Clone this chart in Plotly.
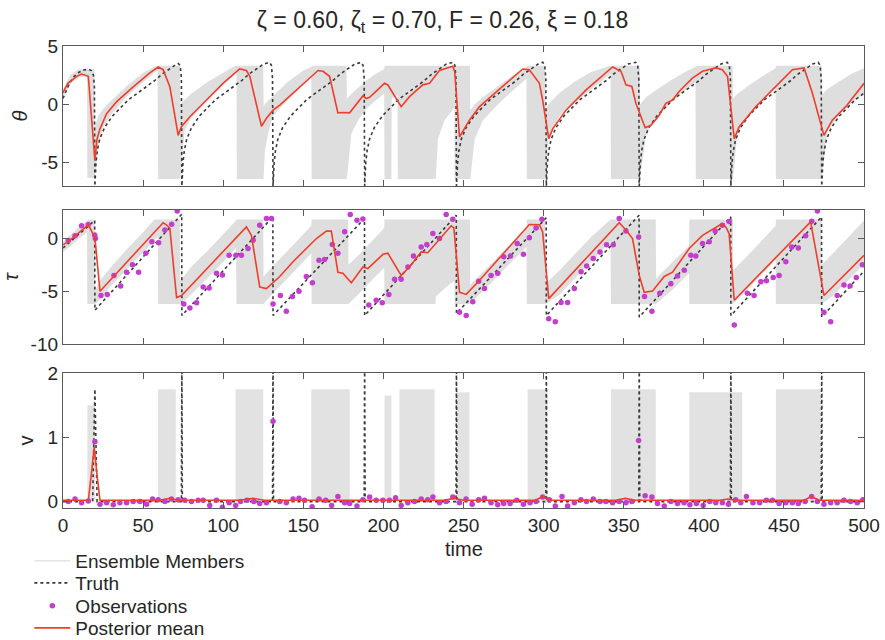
import plotly.graph_objects as go

# ---------------- data ----------------
# Truth theta
truth_theta_t = [0, 2, 4, 7, 10, 13, 16, 17.7, 19.0, 19.6,
                 19.9, 20.6, 21.4, 22.9, 25.9, 30.9, 35.9, 40.9, 46.9, 51.9, 56.9, 61.9, 66.9, 70.9, 72.0, 73.2, 73.9,
                 74.2, 74.9, 75.7, 77.2, 80.2, 85.2, 90.2, 95.2, 101.2, 106.2, 111.2, 116.2, 121.2, 125.2, 128.9, 130.1, 130.8,
                 131.1, 131.8, 132.6, 134.1, 137.1, 142.1, 147.1, 152.1, 158.1, 163.1, 168.1, 173.1, 178.1, 182.1, 186.1, 187.3, 188.0,
                 188.3, 189.0, 189.8, 191.3, 194.3, 199.3, 204.3, 209.3, 215.3, 220.3, 225.3, 230.3, 235.3, 239.3, 243.4, 244.6, 245.3,
                 245.6, 246.3, 247.1, 248.6, 251.6, 256.6, 261.6, 266.6, 272.6, 277.6, 282.6, 287.6, 292.6, 296.6, 299.5, 300.7, 301.4,
                 301.7, 302.4, 303.2, 304.7, 307.7, 312.7, 317.7, 322.7, 328.7, 333.7, 338.7, 343.7, 348.7, 352.7, 357.5, 358.7, 359.4,
                 359.7, 360.4, 361.2, 362.7, 365.7, 370.7, 375.7, 380.7, 386.7, 391.7, 396.7, 401.7, 406.7, 410.7, 414.7, 415.9, 416.6,
                 416.9, 417.6, 418.4, 419.9, 422.9, 427.9, 432.9, 437.9, 443.9, 448.9, 453.9, 458.9, 463.9, 467.9, 471.4, 472.6, 473.3,
                 473.6, 474.3, 475.1, 476.6, 479.6, 484.6, 489.6, 494.6, 500.0]
truth_theta = [0.5, 1.2, 1.8, 2.4, 2.75, 2.95, 3.0, 2.9, 2.5, 1.5,
               -7, -5, -4, -3, -2, -1, -0.3, 0.4, 1.0, 1.5, 2.0, 2.6, 3.1, 3.45, 3.5, 3.3, 2.2,
               -7, -5, -4, -3, -2, -1, -0.3, 0.4, 1.0, 1.5, 2.0, 2.6, 3.1, 3.45, 3.6, 3.35, 2.2,
               -7, -5, -4, -3, -2, -1, -0.3, 0.4, 1.0, 1.5, 2.0, 2.6, 3.1, 3.45, 3.6, 3.35, 2.2,
               -7, -5, -4, -3, -2, -1, -0.3, 0.4, 1.0, 1.5, 2.0, 2.6, 3.1, 3.45, 3.6, 3.35, 2.2,
               -7, -5, -4, -3, -2, -1, -0.3, 0.4, 1.0, 1.5, 2.0, 2.6, 3.1, 3.45, 3.6, 3.35, 2.2,
               -7, -5, -4, -3, -2, -1, -0.3, 0.4, 1.0, 1.5, 2.0, 2.6, 3.1, 3.45, 3.6, 3.35, 2.2,
               -7, -5, -4, -3, -2, -1, -0.3, 0.4, 1.0, 1.5, 2.0, 2.6, 3.1, 3.45, 3.6, 3.35, 2.2,
               -7, -5, -4, -3, -2, -1, -0.3, 0.4, 1.0, 1.5, 2.0, 2.6, 3.1, 3.45, 3.6, 3.35, 2.2,
               -7, -5, -4, -3, -2, -1, -0.3, 0.4, 0.95]

# Truth tau
truth_tau_t = [0, 19.8, 19.9, 74.1, 74.2, 131.0, 131.1, 188.2, 188.3, 245.5, 245.6,
               301.6, 301.7, 359.6, 359.7, 416.8, 416.9, 473.5, 473.6, 500]
truth_tau = [-0.9, 1.7, -6.8, 2.3, -7.3, 2.05, -7.3, 1.9, -7.3, 2.2, -7.1,
             1.95, -7.3, 2.2, -7.45, 2.05, -7.3, 2.05, -7.45, -3.1]

# Truth v
truth_v_t = [0, 18.5, 19.9, 21.3, 73.9, 74.2, 74.5, 130.8, 131.1, 131.4, 188.0, 188.3, 188.6,
             245.3, 245.6, 245.9, 301.4, 301.7, 302.0, 359.4, 359.7, 360.0, 416.6, 416.9, 417.2,
             473.3, 473.6, 473.9, 500]
truth_v = [0, 0, 1.75, 0, 0, 2.3, 0, 0, 2.3, 0, 0, 2.3, 0,
           0, 2.3, 0, 0, 2.3, 0, 0, 2.3, 0, 0, 2.3, 0,
           0, 2.3, 0, 0]

# Posterior mean
post_theta_t = [0, 3, 8.5, 11.6, 15.8, 19.9, 21.2, 23.1, 27.2, 33.5, 43.8, 54.2, 59.4, 62.5, 66.7, 71.9,
                74.0, 79.2, 89.6, 99.9, 110.3, 114.5, 116.6, 123.9, 127.0, 131.1, 135.3, 147.7, 159.2,
                162.3, 166.4, 171.6, 174.7, 178.9, 187.2, 189.3, 191.4, 200.7, 202.8, 211.1, 216.3,
                224.6, 228.8, 235.0, 241.3, 243.3, 244.5, 247.5, 253.7, 260.0, 276.6, 287.0, 291.1,
                297.4, 299.4, 303.2, 305.7, 314.0, 326.5, 343.1, 348.3, 351.4, 355.1, 357.6, 363.4,
                367.0, 372.2, 376.3, 380.5, 384.6, 392.9, 399.2, 407.5, 411.6, 414.8, 419.0, 422.0,
                432.5, 442.8, 455.3, 462.6, 467.8, 475.0, 480.2, 488.6, 498.9, 500]
post_theta = [1.0, 1.8, 2.4, 2.6, 2.4, -4.8, -3.0, -2.1, -0.8, 0.23, 1.5, 2.7, 3.2, 2.97, 1.5, -2.66,
              -1.9, -1.07, 0.37, 1.8, 3.03, 2.9, 2.4, -1.88, -1.2, -0.5, -0.06, 1.5, 2.9,
              2.83, 2.4, -0.73, -0.7, -0.73, 0.72, 0.5, 0.6, 1.8, 1.66, -0.2, 0.66,
              1.67, 1.8, 2.9, 3.2, 3.26, 2.8, -2.8, -1.36, -0.2, 1.8, 3.03, 2.97,
              1.8, 0.37, -2.95, -2.1, -0.5, 1.24, 3.2, 2.83, 1.67, 1.53, 0.09, -2.0,
              -1.8, -0.93, 0.09, 0.37, 1.1, 2.25, 2.83, 3.12, 2.97, 2.4, -2.95, -1.94,
              -0.2, 1.24, 2.97, 3.12, 0.95, -2.66, -1.36, -0.2, 1.67, 1.8]

post_tau_t = [0, 3.3, 15.8, 19.9, 23.1, 62.5, 64.5, 66.7, 70.9, 74.0, 114.5, 117.6, 122.8, 127.0,
              135.3, 143.6, 158.2, 164.4, 167.5, 171.6, 174.7, 180.0, 187.2, 190.3, 199.7, 202.8,
              211.1, 216.3, 223.6, 227.7, 242.3, 244.0, 247.5, 251.7, 260.0, 291.1, 297.4, 299.4,
              303.2, 347.2, 351.4, 355.5, 359.7, 362.8, 368.0, 373.0, 375.3, 380.5, 390.9, 399.2,
              410.6, 413.7, 415.8, 419.0, 466.7, 475.0, 498.9, 500]
post_tau = [-0.6, -0.3, 1.3, 0.1, -5.0, 1.5, 1.3, 0.95, -5.6, -5.4, 1.1, 0.3, -4.6, -4.75,
            -3.6, -2.2, 0.0, 0.7, 0.7, -3.2, -3.3, -4.2, -2.7, -2.85, -1.5, -1.4,
            -3.5, -2.7, -1.27, -1.35, 1.2, 1.0, -5.1, -5.3, -3.96, 1.33, 1.3, 0.63,
            -5.7, 1.5, 0.8, 0.0, -3.5, -5.1, -4.98, -4.1, -3.6, -3.2, -0.95, 0.3,
            1.33, 1.1, 0.47, -5.85, 1.58, -5.4, -1.75, -1.6]

post_v_t = [0, 15.8, 17.6, 19.5, 21.3, 23.1, 26, 60, 66.6, 72, 110, 118.7, 126, 180, 238, 244,
            250, 295, 299.4, 304, 345, 351, 357, 410, 415, 420, 463, 467, 472, 500]
post_v = [0.02, 0.02, 0.4, 0.85, 0.4, 0.02, 0.02, 0.02, 0.05, 0.02, 0.02, 0.05, 0.02, 0.02, 0.02, 0.05,
          0.02, 0.02, 0.08, 0.02, 0.02, 0.05, 0.02, 0.02, 0.04, 0.02, 0.02, 0.08, 0.02, 0.02]

# Observations
obs_tau_t = [3.3, 7.5, 11.6, 15.8, 19.8, 20.2, 23.7, 27.6, 31.8, 36.0, 39.7, 43.4, 47.2, 51.7, 55.5,
             59.7, 63.6, 67.8, 71.3, 75.4, 79.2, 83.4, 87.5, 91.2, 95.8, 99.5, 103.7, 107.9, 111.4,
             115.5, 118.7, 122.8, 127.0, 130.1, 131.1, 135.7, 139.4, 143.2, 147.3, 151.9, 155.7,
             159.8, 163.3, 168.1, 171.6, 175.8, 179.3, 183.5, 187.2, 190.9, 195.5, 199.3, 203.4,
             207.0, 211.1, 215.3, 218.8, 223.6, 227.1, 230.9, 235.0, 239.2, 243.3, 247.5, 251.7,
             255.8, 259.5, 263.1, 267.2, 271.4, 275.1, 279.3, 283.5, 287.4, 291.1, 295.3, 299.0,
             303.2, 307.3, 310.9, 315.0, 319.2, 323.4, 326.9, 331.0, 335.2, 339.3, 343.5, 347.2,
             351.4, 359.3, 363.0, 367.6, 372.5, 379.4, 383.6, 387.8, 391.9, 395.0, 399.2, 403.4,
             407.1, 411.6, 415.8, 419.0, 427.2, 431.4, 435.6, 439.1, 443.3, 447.0, 451.2, 454.9,
             459.0, 463.6, 467.4, 470.9, 475.0, 479.2, 483.3, 487.5, 491.3, 495.2, 499.0]
obs_tau = [-0.2, 0.25, 1.2, 1.33, 0.3, 0.0, -5.4, -5.3, -3.5, -4.5, -3.2, -2.5, -3.2, -1.4, -0.3,
           -0.4, 0.8, 1.36, 2.6, -6.2, -6.6, -6.1, -4.6, -4.7, -3.3, -3.45, -1.6, -1.6, -1.6,
           -0.95, -0.16, 1.26, 1.9, 1.9, -6.2, -5.4, -6.9, -5.5, -5.0, -3.6, -4.2,
           -2.06, -2.0, -0.57, -1.4, 0.63, 2.28, 1.74, 1.84, -6.3, -5.85, -6.1, -5.3,
           -3.86, -3.86, -2.7, -1.65, -0.8, -0.57, 0.47, 0.0, 2.28, 1.83, -7.0, -7.3,
           -6.0, -4.05, -4.75, -3.5, -3.3, -1.74, -1.65, -0.47, -1.5, 0.06, 1.0, 1.83,
           -7.6, -7.9, -6.07, -6.07, -4.75, -3.16, -2.6, -1.9, -1.27, -0.6, -0.6, 1.9,
           0.7, 0.15, -5.5, -6.9, -5.2, -4.3, -3.55, -3.0, -1.6, -1.65, -0.47, -0.3,
           0.7, 1.26, 1.6, -8.2, -5.2, -5.4, -4.1, -4.0, -3.7, -3.5, -2.2, -0.8,
           -0.9, 0.25, 1.64, 2.6, -7.0, -7.9, -5.4, -4.4, -4.5, -3.7, -2.5]

obs_v_t = [3.3, 7.5, 11.6, 15.8, 19.9, 23.1, 27.2, 31.4, 35.5, 39.7, 43.8, 48.0, 52.2, 55.9, 59.4,
           63.6, 67.7, 71.9, 76.0, 80.2, 84.4, 87.5, 91.6, 95.8, 99.5, 103.7, 107.8, 110.8, 114.9,
           119.1, 122.8, 127.0, 131.1, 135.3, 139.4, 143.6, 147.3, 150.8, 155.5, 159.8, 164.0,
           167.7, 171.6, 175.8, 178.9, 183.5, 187.2, 191.4, 195.5, 199.7, 203.8, 207.6, 211.1,
           215.3, 219.4, 223.6, 227.7, 230.9, 235.0, 239.2, 243.3, 247.5, 251.6, 255.4, 259.5,
           263.1, 267.2, 271.4, 275.1, 279.1, 283.2, 287.4, 291.5, 295.3, 299.4, 303.6, 307.3,
           311.5, 315.0, 319.2, 323.3, 326.8, 331.0, 335.2, 338.9, 343.1, 347.2, 351.4, 355.1,
           359.3, 363.4, 367.6, 371.1, 375.3, 379.4, 383.6, 387.7, 391.3, 395.4, 399.6, 403.7,
           407.5, 411.6, 415.4, 419.9, 423.1, 426.6, 430.7, 434.9, 439.1, 442.8, 447.0, 451.1,
           455.3, 459.0, 463.2, 467.3, 470.9, 475.0, 479.2, 483.3, 487.5, 491.6, 495.8, 499.3]
obs_v = [0.0, 0.04, -0.02, 0.01, 0.93, -0.04, -0.02, -0.05, -0.02, -0.02, 0.0, 0.0, -0.04, 0.04, 0.03,
         0.0, 0.04, 0.03, 0.02, 0.0, 0.02, 0.02, -0.06, 0.02, -0.09, -0.02, -0.06, 0.0, 0.02,
         0.0, -0.03, -0.02, 1.25, 0.0, -0.02, 0.04, 0.05, 0.02, -0.08, 0.04, 0.02,
         -0.06, 0.08, -0.02, -0.03, -0.07, 0.03, 0.07, 0.02, 0.02, 0.02, 0.06, -0.06,
         -0.02, 0.0, 0.04, 0.03, 0.07, -0.02, 0.0, 0.07, -0.02, 0.04, -0.04, 0.03,
         0.05, -0.02, -0.05, -0.03, -0.03, 0.02, -0.04, -0.02, 0.0, 0.07, 0.03, -0.07,
         0.08, -0.07, -0.02, 0.03, 0.0, 0.04, 0.0, 0.0, -0.02, 0.0, -0.02, 0.0,
         0.95, 0.09, 0.07, -0.03, -0.07, 0.0, -0.03, -0.02, -0.05, -0.03, -0.06, 0.0,
         -0.02, -0.02, -0.04, 0.03, -0.02, 0.08, -0.02, -0.02, 0.02, 0.02, -0.03, -0.02,
         -0.02, -0.03, 0.0, 0.08, 0.0, -0.04, -0.02, -0.02, 0.02, 0.0, -0.02, 0.03]

# Ensemble spread (envelope of the grey ensemble members)
ens_theta_t = [0, 5, 10, 15.0, 15.2, 19.6, 19.8, 22, 25, 30, 40, 50, 57, 59.0, 59.4, 73.0, 73.2, 76, 80,
               90, 100, 106, 108.3, 108.5, 125.0, 125.2, 126, 128, 131, 140, 150, 155.0, 155.2, 177.0,
               177.2, 180, 185, 190, 195, 200.5, 200.7, 205.0, 205.2, 208.8, 209.0, 232.5, 232.7, 234,
               238, 244.3, 244.5, 254.0, 254.2, 257, 262, 270, 280, 289.3, 289.5, 301.0, 301.2, 303,
               310, 320, 330, 341.8, 342.0, 360.0, 360.2, 364, 370, 380, 390, 394.8, 395.0, 418.0,
               418.2, 421, 430, 440, 444.8, 445.0, 473.5, 473.7, 477, 485, 492, 500]
ens_theta_lo = [0.6, 1.8, 2.3, 2.4, -6.3, -6.3, -6.3, -3.5, -2.0, -0.9, 0.7, 1.9, 2.7, 2.9, -6.4, -6.4, -6.4, -2.2, -1.2,
                0.3, 1.7, 2.5, 2.8, -6.4, -6.4, -6.4, -4.0, -2.5, -1.0, 0.3, 1.7, 2.4, -6.4, -6.4,
                -6.4, -2.5, -1.2, -0.3, 0.3, 0.9, -6.4, -6.4, 0.5, 0.8, -6.4, -6.4, -6.4, -3.0,
                -1.4, -0.3, -6.4, -6.4, -6.4, -3.0, -1.4, -0.2, 1.1, 2.2, -6.4, -6.4, -6.4, -3.0,
                -1.0, 0.2, 1.3, 2.6, -6.4, -6.4, -6.4, -2.5, -1.2, 0.2, 1.4, 1.9, -6.4, -6.4,
                -6.4, -2.5, -0.6, 0.8, 1.4, -6.4, -6.4, -6.4, -2.3, -0.8, 0.1, 0.9]
ens_theta_hi = [1.3, 2.6, 3.0, 3.0, 3.0, 3.0, -2.0, -1.0, -0.4, 0.3, 1.6, 2.7, 3.2, 3.3, 3.3, 3.3, 0.0, 0.4, 0.9,
                1.9, 2.7, 3.2, 3.3, 3.3, 3.3, -0.2, 0.0, 0.3, 0.7, 1.9, 2.9, 3.2, 3.3, 3.3,
                0.5, 0.9, 1.5, 2.1, 2.6, 3.0, 3.3, 3.3, 3.3, 3.3, 3.3, 3.3, 3.3, 3.3,
                3.3, 3.3, 3.3, 3.3, -0.5, 0.0, 0.6, 1.4, 2.4, 3.2, 3.3, 3.3, -0.5, 0.0,
                1.0, 2.0, 2.8, 3.3, 3.3, 3.3, 0.0, 0.6, 1.2, 2.1, 2.9, 3.2, 3.3, 3.3,
                0.5, 0.9, 1.8, 2.7, 3.1, 3.3, 3.3, 0.8, 1.3, 2.0, 2.6, 3.1]

ens_tau_t = [0, 10, 15.0, 15.2, 19.8, 20.0, 23, 30, 40, 50, 57, 59.2, 59.4, 73.0, 73.2, 80, 90, 100,
             108.0, 108.3, 125.0, 125.2, 131, 140, 150, 155.0, 155.2, 178.0, 178.2, 185, 195, 200.5,
             200.7, 232.5, 232.7, 240, 244.3, 244.5, 254.0, 254.2, 262, 270, 280, 289.3, 289.5, 301.0,
             301.2, 310, 320, 330, 341.8, 342.0, 370.0, 370.2, 380, 390.8, 391.0, 418.2, 418.4, 425,
             435, 444.8, 445.0, 473.4, 473.6, 480, 490, 500]
ens_tau_lo = [-1.3, 0.0, 0.6, -6.2, -6.2, -6.2, -5.8, -4.5, -2.9, -1.3, -0.2, 0.2, -6.2, -6.2, -6.3, -5.3, -3.8, -2.2,
              -0.9, -6.2, -6.2, -6.2, -5.2, -3.8, -2.2, -1.4, -6.2, -6.2, -6.2, -5.2, -3.6, -2.8,
              -6.2, -6.2, -5.5, -4.5, -4.0, -6.2, -6.2, -6.2, -5.0, -3.8, -2.2, -0.8, -6.2, -6.2,
              -6.2, -5.3, -3.7, -2.1, -0.3, -6.2, -6.2, -6.2, -4.9, -3.3, -6.2, -6.2, -6.2, -5.2,
              -3.6, -2.0, -6.2, -6.2, -6.2, -5.5, -4.0, -2.4]
ens_tau_hi = [-0.3, 1.1, 1.6, 1.8, 1.8, -5.0, -4.0, -2.7, -1.0, 0.6, 1.8, 1.8, 1.8, 1.8, -4.0, -2.7, -1.2, 0.4,
              1.7, 1.8, 1.8, -3.6, -2.6, -1.2, 0.4, 1.2, 1.8, 1.8, -2.5, -1.5, 0.1, 1.0,
              1.8, 1.8, 1.8, 1.8, 1.8, 1.8, 1.8, -4.4, -3.2, -2.0, -0.4, 1.0, 1.8, 1.8,
              -4.3, -3.0, -1.4, 0.2, 1.8, 1.8, 1.8, -3.8, -2.3, -0.7, 1.8, 1.8, -3.0, -2.0,
              -0.4, 1.2, 1.8, 1.8, -2.5, -1.5, 0.1, 1.7]

ens_v_start = [15.2, 59.4, 107.7, 155.0, 200.7, 210.0, 245.4, 290.0, 342.0, 391.0, 445.0]
ens_v_end = [20.0, 70.4, 125.0, 179.0, 205.0, 232.0, 253.7, 302.5, 370.0, 424.0, 473.0]
ens_v_top = [1.5, 1.75, 1.75, 1.75, 1.65, 1.75, 1.7, 1.75, 1.75, 1.7, 1.75]

# axis ticks
x_ticks = [0, 50, 100, 150, 200, 250, 300, 350, 400, 450, 500]
theta_ticks = [-5, 0, 5]
tau_ticks = [-10, -5, 0]
v_ticks = [0, 1, 2]

# ---------------- styling ----------------
FONT = "Liberation Sans, Arial, Helvetica, sans-serif"
TXT = "#262626"
GRAY = "rgb(222,222,222)"
RED = "rgb(240,62,45)"
MAG = "rgb(196,62,206)"
TRUTH = "#3a3a3a"
AXC = "#5a5a5a"


def band(t, lo, hi):
    n = min(len(t), len(lo), len(hi))
    t, lo, hi = list(t[:n]), list(lo[:n]), list(hi[:n])
    return t + t[::-1], hi + lo[::-1]


def blocks(starts, ends, tops):
    xs, ys = [], []
    for s, e, h in zip(starts, ends, tops):
        xs += [s, s, e, e, s, None]
        ys += [0, h, h, 0, 0, None]
    return xs, ys


fig = go.Figure()

# legend-only entry for ensemble
fig.add_trace(go.Scatter(x=[None], y=[None], mode="lines", name="Ensemble Members",
                         line=dict(color="rgb(215,215,215)", width=1), legend="legend"))

# Panel 1: theta
bx, by = band(ens_theta_t, ens_theta_lo, ens_theta_hi)
fig.add_trace(go.Scatter(x=bx, y=by, fill="toself", fillcolor=GRAY, mode="none",
                         showlegend=False, hoverinfo="skip", xaxis="x", yaxis="y"))
fig.add_trace(go.Scatter(x=truth_theta_t, y=truth_theta, mode="lines", name="Truth",
                         line=dict(color=TRUTH, width=1.6, dash="dot"), legend="legend2",
                         xaxis="x", yaxis="y"))
fig.add_trace(go.Scatter(x=post_theta_t, y=post_theta, mode="lines", name="Posterior mean",
                         line=dict(color=RED, width=1.6), legend="legend4", xaxis="x", yaxis="y"))

# Panel 2: tau
bx, by = band(ens_tau_t, ens_tau_lo, ens_tau_hi)
fig.add_trace(go.Scatter(x=bx, y=by, fill="toself", fillcolor=GRAY, mode="none",
                         showlegend=False, hoverinfo="skip", xaxis="x2", yaxis="y2"))
fig.add_trace(go.Scatter(x=truth_tau_t, y=truth_tau, mode="lines", showlegend=False,
                         line=dict(color=TRUTH, width=1.6, dash="dot"), xaxis="x2", yaxis="y2"))
fig.add_trace(go.Scatter(x=obs_tau_t, y=obs_tau, mode="markers", name="Observations",
                         marker=dict(color=MAG, size=5.5), legend="legend3", xaxis="x2", yaxis="y2"))
fig.add_trace(go.Scatter(x=post_tau_t, y=post_tau, mode="lines", showlegend=False,
                         line=dict(color=RED, width=1.6), xaxis="x2", yaxis="y2"))

# Panel 3: v
bx, by = blocks(ens_v_start, ens_v_end, ens_v_top)
fig.add_trace(go.Scatter(x=bx, y=by, fill="toself", fillcolor="rgb(226,226,226)", mode="none",
                         showlegend=False, hoverinfo="skip", xaxis="x3", yaxis="y3"))
fig.add_trace(go.Scatter(x=truth_v_t, y=truth_v, mode="lines", showlegend=False,
                         line=dict(color=TRUTH, width=1.6, dash="dot"), xaxis="x3", yaxis="y3"))
fig.add_trace(go.Scatter(x=obs_v_t, y=obs_v, mode="markers", showlegend=False,
                         marker=dict(color=MAG, size=5.5), xaxis="x3", yaxis="y3"))
fig.add_trace(go.Scatter(x=post_v_t, y=post_v, mode="lines", showlegend=False,
                         line=dict(color=RED, width=1.6), xaxis="x3", yaxis="y3"))

axis_common = dict(showline=True, linecolor=AXC, linewidth=1.3, mirror="ticks",
                   ticks="inside", ticklen=6, tickcolor=AXC, tickwidth=1.2,
                   showgrid=False, zeroline=False, automargin=False,
                   tickfont=dict(family=FONT, size=19, color=TXT))

xa = dict(range=[0, 500], tickvals=x_ticks, ticktext=[str(v) for v in x_ticks], **axis_common)


def ya(rng, ticks, title, dom, anchor):
    return dict(range=rng, tickvals=ticks, ticktext=[str(v) for v in ticks], domain=dom,
                anchor=anchor,
                title=dict(text=title, font=dict(family=FONT, size=20, color=TXT), standoff=8),
                **axis_common)


leg_common = dict(font=dict(family=FONT, size=19, color=TXT), bgcolor="rgba(0,0,0,0)",
                  borderwidth=0, x=-0.042, xanchor="left", yref="container", yanchor="middle",
                  itemwidth=36)

fig.update_layout(
    width=885, height=640,
    margin=dict(l=63, r=21, t=46, b=132, autoexpand=False),
    paper_bgcolor="white", plot_bgcolor="white",
    font=dict(family=FONT, color=TXT),
    title=dict(text="ζ = 0.60, ζ<sub>t</sub> = 0.70, F = 0.26, ξ = 0.18",
               x=0.5, xref="container", xanchor="center",
               y=1 - 20 / 640, yref="container", yanchor="middle",
               font=dict(family=FONT, size=23, color=TXT)),
    xaxis=dict(anchor="y", showticklabels=False, **xa),
    xaxis2=dict(anchor="y2", showticklabels=False, matches="x", **xa),
    xaxis3=dict(anchor="y3", matches="x", **xa),
    yaxis=ya([-7, 5], theta_ticks, "<i>θ</i>", [0.697, 1.0], "x"),
    yaxis2=ya([-10, 2.7], tau_ticks, "<i>τ</i>", [0.355, 0.645], "x2"),
    yaxis3=ya([-0.1, 2], v_ticks, "v", [0.0, 0.292], "x3"),
    annotations=[dict(text="time", xref="paper", x=0.5, xanchor="center",
                      yref="paper", y=(508 - 549) / 462, yanchor="middle",
                      showarrow=False, font=dict(family=FONT, size=20, color=TXT))],
    legend=dict(y=1 - 561 / 640, **leg_common),
    legend2=dict(y=1 - 583 / 640, **leg_common),
    legend3=dict(y=1 - 606 / 640, **leg_common),
    legend4=dict(y=1 - 628 / 640, **leg_common),
    showlegend=True,
)

fig.write_html("out.html")
